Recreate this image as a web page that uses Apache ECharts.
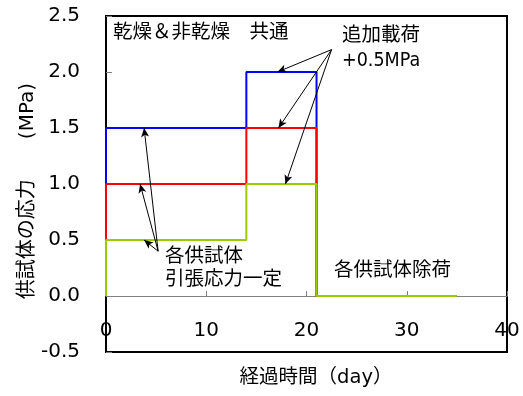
<!DOCTYPE html>
<html>
<head>
<meta charset="utf-8">
<script src="https://cdn.jsdelivr.net/npm/echarts@6/dist/echarts.min.js"></script>
<style>
html,body{margin:0;padding:0;background:#fff;}
#chart{width:523px;height:396px;}
</style>
</head>
<body>
<div id="chart"></div>
<script>
// ---- data ----
const time = [0, 0, 14, 14, 21, 21, 35];
const stressBlue = [0, 1.5, 1.5, 2.0, 2.0, 0, 0];
const stressRed = [0, 1.0, 1.0, 1.5, 1.5, 0, 0];
const stressGreen = [0, 0.5, 0.5, 1.0, 1.0, 0, 0];
const xTicks = [0, 10, 20, 30, 40];
const yTicks = [-0.5, 0.0, 0.5, 1.0, 1.5, 2.0, 2.5];
// annotation arrows (data coordinates)
const arrowFromAdd = [22.5, 2.2];
const arrowToAdd = [[17.1, 2.0], [17.2, 1.5], [17.9, 1.0]];
const arrowFromConst = [5.2, 0.40];
const arrowToConst = [[3.8, 1.5], [3.4, 1.0], [3.8, 0.5]];
// texts
const xName = '経過時間（day）';
const yName = '供試体の応力　　(MPa)';
const noteCommon = '乾燥＆非乾燥　共通';
const noteAdd = ['追加載荷', '+0.5MPa'];
const noteConst = ['各供試体', '引張応力一定'];
const noteUnload = '各供試体除荷';

const FONT = 'DejaVu Sans, Noto Sans CJK JP, sans-serif';
const FONT_C = 'DejaVu Sans Condensed, Liberation Sans, Noto Sans CJK JP, sans-serif';
const pair = (xs, ys) => xs.map((x, i) => [x, ys[i]]);

const arrowData = [];
arrowToAdd.forEach(t => arrowData.push([{coord: arrowFromAdd}, {coord: t}]));
arrowToConst.forEach(t => arrowData.push([{coord: arrowFromConst}, {coord: t}]));

const GRID_H = 396 - 16 - 44;
const yMin = yTicks[0], yMax = yTicks[yTicks.length - 1];
// move the x axis up to the zero line
const zeroOffset = -GRID_H * (0 - yMin) / (yMax - yMin);

const chart = echarts.init(document.getElementById('chart'), null, {renderer: 'canvas'});
const lineSeries = (name, color, ys, z) => ({
  name, type: 'line', data: pair(time, ys), showSymbol: false, symbol: 'none',
  lineStyle: {color, width: 2}, itemStyle: {color}, z, animation: false
});
chart.setOption({
  animation: false,
  backgroundColor: '#fff',
  grid: {left: 106, right: 16, top: 16, bottom: 44, show: true, borderColor: '#000', borderWidth: 2, backgroundColor: 'transparent'},
  xAxis: {
    type: 'value', min: xTicks[0], max: xTicks[xTicks.length - 1], interval: 10,
    position: 'bottom', offset: zeroOffset,
    axisLine: {onZero: false, lineStyle: {color: '#808080', width: 1}},
    axisTick: {inside: true, length: 5, lineStyle: {color: '#808080'}},
    axisLabel: {margin: 25, fontSize: 20, color: '#000', fontFamily: FONT},
    splitLine: {show: false}
  },
  yAxis: {
    type: 'value', min: yMin, max: yMax, interval: 0.5,
    axisLine: {show: false},
    axisTick: {show: true, inside: true, length: 6, lineStyle: {color: '#808080'}},
    axisLabel: {margin: 26, fontSize: 20, color: '#000', fontFamily: FONT, formatter: v => v.toFixed(1)},
    splitLine: {show: false}
  },
  series: [
    lineSeries('blue', '#0000ff', stressBlue, 2),
    lineSeries('red', '#ff0000', stressRed, 3),
    Object.assign(lineSeries('green', '#99cc00', stressGreen, 4), {
      markLine: {
        silent: true, symbol: ['none', 'arrow'], symbolSize: [6, 9],
        lineStyle: {color: '#000', width: 1, type: 'solid'},
        label: {show: false}, animation: false,
        data: arrowData
      }
    })
  ],
  graphic: [
    {type: 'text', x: 28, y: 191, rotation: Math.PI / 2,
     style: {text: yName, fill: '#000', font: '20px ' + FONT, textAlign: 'center', textVerticalAlign: 'middle'}},
    {type: 'text', x: 316, y: 378,
     style: {text: xName, fill: '#000', font: '19.5px ' + FONT, textAlign: 'center', textVerticalAlign: 'middle'}},
    {type: 'text', x: 113, y: 33, style: {text: noteCommon, fill: '#000', font: '19.5px ' + FONT, textVerticalAlign: 'middle'}},
    {type: 'text', x: 342, y: 36, style: {text: noteAdd[0], fill: '#000', font: '19.5px ' + FONT, textVerticalAlign: 'middle'}},
    {type: 'text', x: 342, y: 61, style: {text: noteAdd[1], fill: '#000', font: '19.5px ' + FONT_C, textVerticalAlign: 'middle'}},
    {type: 'text', x: 165, y: 257, style: {text: noteConst[0], fill: '#000', font: '19.5px ' + FONT, textVerticalAlign: 'middle'}},
    {type: 'text', x: 165, y: 280, style: {text: noteConst[1], fill: '#000', font: '19.5px ' + FONT, textVerticalAlign: 'middle'}},
    {type: 'text', x: 334, y: 271, style: {text: noteUnload, fill: '#000', font: '19.5px ' + FONT, textVerticalAlign: 'middle'}}
  ]
});
</script>
</body>
</html>
